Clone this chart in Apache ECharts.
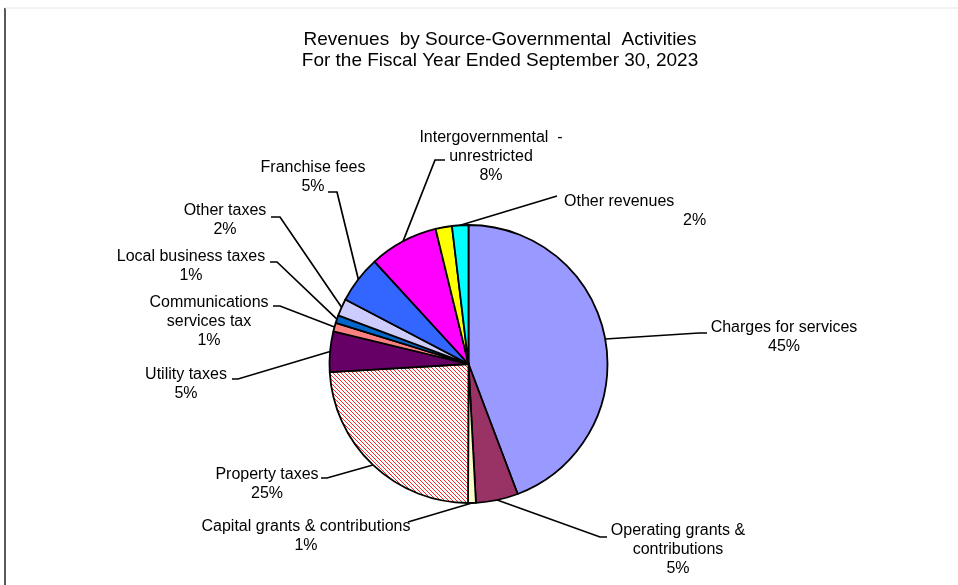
<!DOCTYPE html>
<html>
<head>
<meta charset="utf-8">
<script src="https://cdn.jsdelivr.net/npm/echarts@6/dist/echarts.min.js"></script>
<style>
  html, body { margin: 0; padding: 0; background: #ffffff; }
  #chart { width: 958px; height: 585px; }
</style>
</head>
<body>
<div id="chart"></div>
<script>
// ---- Data ----
const titleLines = ['Revenues  by Source-Governmental  Activities', 'For the Fiscal Year Ended September 30, 2023'];
const categories = [
  'Charges for services',
  'Operating grants &\ncontributions',
  'Capital grants & contributions',
  'Property taxes',
  'Utility taxes',
  'Communications\nservices tax',
  'Local business taxes',
  'Other taxes',
  'Franchise fees',
  'Intergovernmental  -\nunrestricted',
  'Unlabeled',
  'Other revenues'
];
// estimated share of each slice (percent)
const values = [44.2, 4.9, 0.9, 24.0, 4.7, 1.0, 0.9, 2.0, 5.5, 8.0, 1.9, 1.9];
// percentages as printed on the chart
const pctLabels = ['45%', '5%', '1%', '25%', '5%', '1%', '1%', '2%', '5%', '8%', '', '2%'];
const showLabel = [true, true, true, true, true, true, true, true, true, true, false, true];

// ---- Styles / layout (not data) ----
const colors = ['#9999FF', '#993366', '#FFFFCC', 'HATCH', '#660066', '#FF8080', '#0066CC',
                '#CCCCFF', '#3366FF', '#FF00FF', '#FFFF00', '#00FFFF'];
// label placement: x/y = anchor of text block, ex/ey = end of leader line, sx = stub end x
const labelPos = [
  {x: 784, y: 318, align: 'center', ex: 699, ey: 333, sx: 707},
  {x: 678, y: 521, align: 'center', ex: 600, ey: 537, sx: 607},
  {x: 306, y: 517, align: 'center', ex: 408, ey: 522, sx: 408},
  {x: 267, y: 465, align: 'center', ex: 327, ey: 478, sx: 321},
  {x: 186, y: 365, align: 'center', ex: 238, ey: 379, sx: 232},
  {x: 209, y: 293, align: 'center', ex: 280, ey: 306, sx: 273},
  {x: 191, y: 247, align: 'center', ex: 277, ey: 262, sx: 270},
  {x: 225, y: 201, align: 'center', ex: 280, ey: 217, sx: 271},
  {x: 313, y: 158, align: 'center', ex: 337, ey: 192, sx: 328},
  {x: 491, y: 128, align: 'center', ex: 435, ey: 160, sx: 445},
  null,
  {x: 564, y: 192, align: 'left', ex: 557, ey: 196, sx: 557}
];

function makeHatch() {
  const s = 4;
  const c = document.createElement('canvas');
  c.width = s; c.height = s;
  const g = c.getContext('2d');
  g.fillStyle = '#ffffff';
  g.fillRect(0, 0, s, s);
  g.strokeStyle = '#FF2222';
  g.lineWidth = 1.0;
  for (const k of [-s, 0, s]) {
    g.beginPath();
    g.moveTo(k, 0);
    g.lineTo(k + s, s);
    g.stroke();
  }
  return { image: c, repeat: 'repeat' };
}
const hatch = makeHatch();

const chart = echarts.init(document.getElementById('chart'), null, { renderer: 'canvas' });

const pieData = categories.map((name, i) => {
  const item = {
    name: name,
    value: values[i],
    itemStyle: { color: colors[i] === 'HATCH' ? hatch : colors[i] },
    label: { show: showLabel[i] },
    labelLine: { show: showLabel[i] }
  };
  if (name === 'Other revenues') {
    item.label.formatter = '{a|' + name + '}\n{b|' + pctLabels[i] + '}';
  } else {
    item.label.formatter = name + '\n' + pctLabels[i];
  }
  return item;
});

const option = {
  backgroundColor: '#ffffff',
  animation: false,
  title: {
    text: titleLines.join('\n'),
    left: 500,
    top: 29,
    textAlign: 'center',
    padding: 0,
    textStyle: {
      fontFamily: 'Liberation Sans, Arial, sans-serif',
      fontSize: 19,
      fontWeight: 'normal',
      color: '#000',
      lineHeight: 21
    }
  },
  graphic: [
    { type: 'line', shape: { x1: 5, y1: 8, x2: 5, y2: 585 }, style: { stroke: '#222', lineWidth: 1.5 } },
    { type: 'line', shape: { x1: 5, y1: 8, x2: 958, y2: 8 }, style: { stroke: '#e6e6e6', lineWidth: 1 } }
  ],
  series: [{
    type: 'pie',
    center: [468.5, 364],
    radius: 139,
    startAngle: 90,
    clockwise: true,
    avoidLabelOverlap: false,
    itemStyle: { borderColor: '#000', borderWidth: 1.8 },
    emphasis: { disabled: true },
    label: {
      show: true,
      position: 'outside',
      fontFamily: 'Liberation Sans, Arial, sans-serif',
      fontSize: 16,
      lineHeight: 19,
      color: '#000',
      rich: {
        a: { fontFamily: 'Liberation Sans, Arial, sans-serif', fontSize: 16, lineHeight: 19, color: '#000' },
        b: { fontFamily: 'Liberation Sans, Arial, sans-serif', fontSize: 16, lineHeight: 19, color: '#000', padding: [0, 0, 0, 119] }
      }
    },
    labelLine: {
      show: true,
      length: 10,
      length2: 6,
      smooth: false,
      lineStyle: { color: '#000', width: 1.7 }
    },
    labelLayout: function (params) {
      const p = labelPos[params.dataIndex];
      if (!p) return {};
      let start = params.labelLinePoints ? params.labelLinePoints[0] : null;
      try {
        const lay = chart.getModel().getSeriesByIndex(0).getData().getItemLayout(params.dataIndex);
        const mid = (lay.startAngle + lay.endAngle) / 2;
        start = [lay.cx + lay.r * Math.cos(mid), lay.cy + lay.r * Math.sin(mid)];
      } catch (e) {}
      const out = {
        x: p.x,
        y: p.y,
        align: p.align,
        verticalAlign: 'top',
        hideOverlap: false
      };
      if (start) {
        out.labelLinePoints = [start, [p.ex, p.ey], [p.sx, p.ey]];
      }
      return out;
    },
    data: pieData
  }]
};

chart.setOption(option);
</script>
</body>
</html>
